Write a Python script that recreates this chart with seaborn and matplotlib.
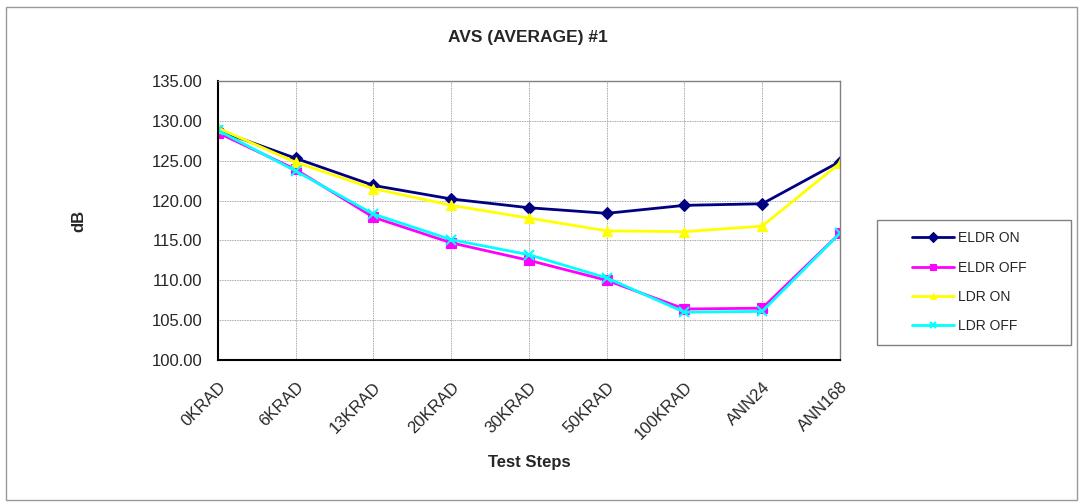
import matplotlib
matplotlib.use("Agg")
import matplotlib.pyplot as plt
import pandas as pd
import seaborn as sns
from matplotlib.patches import Rectangle

steps = ["0KRAD", "6KRAD", "13KRAD", "20KRAD", "30KRAD", "50KRAD", "100KRAD", "ANN24", "ANN168"]
eldr_on = [128.8, 125.3, 121.9, 120.2, 119.1, 118.4, 119.4, 119.6, 124.9]
eldr_off = [128.5, 123.9, 117.9, 114.7, 112.5, 110.0, 106.4, 106.5, 115.9]
ldr_on = [129.1, 124.8, 121.5, 119.4, 117.8, 116.2, 116.1, 116.8, 124.7]
ldr_off = [128.8, 123.7, 118.3, 115.1, 113.2, 110.3, 106.0, 106.1, 115.9]

series = ["ELDR ON", "ELDR OFF", "LDR ON", "LDR OFF"]
colors = ["#000080", "#FF00FF", "#FFFF00", "#00FFFF"]
markers = ["D", "s", "^", "x"]
msizes = [6, 7, 7, 7]

df = pd.DataFrame({
    "step": steps * 4,
    "dB": eldr_on + eldr_off + ldr_on + ldr_off,
    "series": [s for s in series for _ in steps],
})
df["pos"] = df["step"].map({s: i for i, s in enumerate(steps)})

sns.set_style("white")
plt.rcParams["font.family"] = ["Liberation Sans", "DejaVu Sans"]

fig = plt.figure(figsize=(10.83, 5.04), dpi=100)
ax = fig.add_axes([0.2013, 0.2857, 0.5743, 0.5536])

for s, c, m, ms in zip(series, colors, markers, msizes):
    sns.lineplot(data=df[df["series"] == s], x="pos", y="dB", ax=ax, color=c,
                 marker=m, markersize=ms, markeredgecolor=c, markeredgewidth=1.5 if m == "x" else 0.8,
                 linewidth=2, label=s, legend=False)

ax.set_xlim(0, len(steps) - 1)
ax.set_ylim(100, 135)
ax.set_yticks(range(100, 136, 5))
ax.set_yticklabels([f"{v:.2f}" for v in range(100, 136, 5)], fontsize=12)
ax.set_xticks(range(len(steps)))
ax.set_xticklabels(steps, rotation=45, ha="right", rotation_mode="anchor", fontsize=12)
ax.tick_params(axis="both", length=5, color="black", direction="out")
ax.tick_params(axis="y", pad=6)
ax.tick_params(axis="x", pad=9)
ax.grid(True, color="#888888", linestyle=(0, (1, 1)), linewidth=0.6)
ax.set_axisbelow(True)
for side in ["top", "right"]:
    ax.spines[side].set_color("#808080")
    ax.spines[side].set_linewidth(1)
for side in ["left", "bottom"]:
    ax.spines[side].set_color("black")
    ax.spines[side].set_linewidth(1.5)

ax.set_xlabel("Test Steps", fontsize=12, fontweight="bold", labelpad=9)
ax.set_ylabel("dB", fontsize=12, fontweight="bold", labelpad=47)
fig.text(0.487, 0.925, "AVS (AVERAGE) #1", ha="center", va="center", fontsize=12.5, fontweight="bold")

# legend without frame, frame drawn separately (wider horizontal padding like Excel)
leg = ax.legend(loc="center left", bbox_to_anchor=(0.836, 0.44), bbox_transform=fig.transFigure,
                frameon=False, fontsize=10, borderpad=0, labelspacing=1.1,
                handlelength=3.0, handletextpad=0.3)
for h in leg.legend_handles:
    h.set_markersize(5)
fig.patches.append(Rectangle((877 / 1083, 1 - 345 / 504), 194 / 1083, 125 / 504,
                             transform=fig.transFigure, fill=False, edgecolor="#808080", linewidth=1))

fig.patches.append(Rectangle((0.006, 0.008), 0.988, 0.978, transform=fig.transFigure,
                             fill=False, edgecolor="#999999", linewidth=1))

fig.savefig("out.png", dpi=100)
